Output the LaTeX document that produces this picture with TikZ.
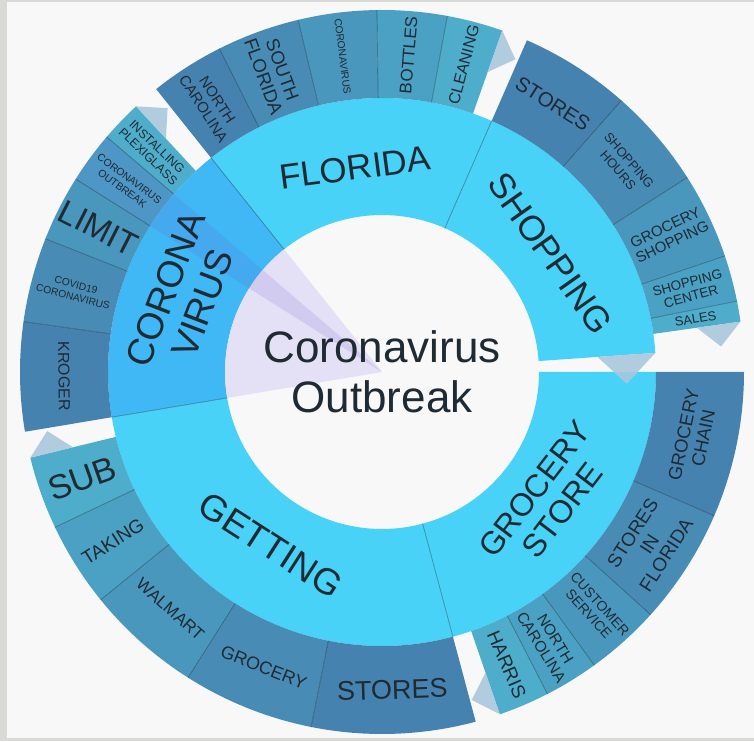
\documentclass[tikz,border=0pt]{standalone}
\usepackage{fontspec}
\setmainfont{Liberation Sans}
\usepackage{tikz}
\usepackage{xcolor}
\definecolor{bgframe}{HTML}{D9D9D6}
\definecolor{bgfill}{HTML}{F8F8F8}
\definecolor{ringone}{HTML}{48D2F8}
\definecolor{ringsel}{HTML}{3FB8F5}
\definecolor{shadeA}{HTML}{4682B0}
\definecolor{shadeB}{HTML}{488CB6}
\definecolor{shadeC}{HTML}{4A97BE}
\definecolor{shadeD}{HTML}{4AA1C4}
\definecolor{shadeE}{HTML}{4DADCA}
\definecolor{tabcolor}{HTML}{A9C8DC}
\definecolor{lavender}{HTML}{E4E0F5}
\definecolor{bandcolor}{HTML}{6A5ACD}
\definecolor{labelcolor}{HTML}{1F2A33}

% ring piece: inner radius, outer radius, start angle, end angle, colour
\newcommand{\sunsector}[5]{%
  \fill[#5] (#3:#1) -- (#3:#2) arc[start angle=#3, end angle=#4, radius=#2]
    -- (#4:#1) arc[start angle=#4, end angle=#3, radius=#1] -- cycle;}
% end marker: outer radius, base, end angle, tip angle
\newcommand{\suntab}[4]{%
  \fill[tabtip] (#3:#1) -- (#3:{#1-#2}) -- (#4:{#1-#2/2}) -- cycle;}

\begin{document}
\begin{tikzpicture}[x=1pt, y=1pt,
    lbl/.style={text=labelcolor, align=center, inner sep=0pt},
    fs/.style 2 args={font=\fontsize{#1}{#2}\selectfont},
    seam/.style={draw=black, draw opacity=0.35, line width=0.7pt},
    tabtip/.style={fill=tabcolor, fill opacity=0.9},
]

% Frame
\fill[bgframe] (-382,-369) rectangle (372,372);
\fill[bgfill] (-375,-366) rectangle (372,370);
\useasboundingbox (-382,-369) rectangle (372,372);

% Inner ring
\sunsector{157}{274}{4}{66.4}{ringone}      % shopping
\sunsector{157}{274}{66.4}{128.6}{ringone}  % florida
\sunsector{157}{274}{128.6}{189.5}{ringsel} % corona virus
\sunsector{157}{274}{189.5}{285}{ringone}   % getting
\sunsector{157}{274}{285}{360}{ringone}     % grocery store

% Outer ring: florida
\sunsector{274}{362}{116.7}{128.6}{shadeA}
\sunsector{274}{362}{103.4}{116.7}{shadeB}
\sunsector{274}{362}{90.8}{103.4}{shadeC}
\sunsector{274}{362}{79.6}{90.8}{shadeD}
\sunsector{274}{362}{70.6}{79.6}{shadeE}
% Outer ring: shopping
\sunsector{274}{362}{48.6}{66.4}{shadeA}
\sunsector{274}{362}{32.5}{48.6}{shadeB}
\sunsector{274}{362}{18.7}{32.5}{shadeC}
\sunsector{274}{362}{11.3}{18.7}{shadeD}
\sunsector{274}{362}{8}{11.3}{shadeE}
% Outer ring: grocery store
\sunsector{274}{362}{-23.4}{0}{shadeA}
\sunsector{274}{362}{-42.1}{-23.4}{shadeB}
\sunsector{274}{362}{-54.1}{-42.1}{shadeC}
\sunsector{274}{362}{-62.8}{-54.1}{shadeD}
\sunsector{274}{362}{-71}{-62.8}{shadeE}
% Outer ring: getting
\sunsector{274}{362}{-101.3}{-75}{shadeA}
\sunsector{274}{362}{-122.4}{-101.3}{shadeB}
\sunsector{274}{362}{-141}{-122.4}{shadeC}
\sunsector{274}{362}{-154.6}{-141}{shadeD}
\sunsector{274}{362}{-166.3}{-154.6}{shadeE}
% Outer ring: corona virus
\sunsector{274}{362}{172}{189.5}{shadeA}
\sunsector{274}{362}{158.4}{172}{shadeB}
\sunsector{274}{362}{147.8}{158.4}{shadeC}
\sunsector{274}{362}{139.5}{147.8}{shadeD}
\sunsector{274}{362}{132.8}{139.5}{shadeE}

% Hover wedge
\fill[lavender] (0,0) -- (128.6:157) arc[start angle=128.6, end angle=189.5, radius=157] -- cycle;
\fill[bandcolor, fill opacity=0.15] (0,0) -- (139.5:362) arc[start angle=139.5, end angle=147.8, radius=362] -- cycle;

% Seams
\foreach \a in {66.4, 128.6, 189.5, 285}
  \draw[seam] (\a:157) -- (\a:274);
\foreach \a in {116.7, 103.4, 90.8, 79.6, 48.6, 32.5, 18.7, 11.3, -23.4, -42.1,
    -54.1, -62.8, -101.3, -122.4, -141, -154.6, 172, 158.4, 147.8, 139.5}
  \draw[seam] (\a:274) -- (\a:362);

% End markers
\suntab{362}{44}{70.6}{66.9}
\suntab{362}{44}{8}{4.3}
\suntab{362}{44}{-71}{-74.7}
\suntab{362}{44}{193.7}{190}
\suntab{362}{44}{132.8}{129.1}
\suntab{274}{58}{4}{-2.75}

% Centre
\node[lbl, fs={44}{50}] (root) at (0,0) {Coronavirus\\Outbreak};

% Inner labels
\node[lbl, fs={35}{38}, rotate=7.5] (florida) at (97.5:206) {FLORIDA};
\node[lbl, fs={35.5}{38}, rotate=-54.8] (shopping) at (35.2:206) {SHOPPING};
\node[lbl, fs={32}{35}, rotate=52.5] (grocerystore) at (-37.5:210) {GROCERY\\STORE};
\node[lbl, fs={36.5}{39}, rotate=-32.75] (getting) at (-122.75:206) {GETTING};
\node[lbl, fs={37}{40}, rotate=69.05] (corona) at (159.05:212) {CORONA\\VIRUS};

% Outer labels: florida
\node[lbl, fs={15}{16.5}, rotate=-57.35] (fl-nc) at (122.65:318) {NORTH\\CAROLINA};
\node[lbl, fs={18.5}{20}, rotate=-69.95] (fl-south) at (110.05:318) {SOUTH\\FLORIDA};
\node[lbl, fs={10.3}{11}, rotate=-82.9] (fl-corona) at (97.1:318) {CORONAVIRUS};
\node[lbl, fs={17}{19}, rotate=85.2] (fl-bottles) at (85.2:318) {BOTTLES};
\node[lbl, fs={16}{18}, rotate=75.1] (fl-cleaning) at (75.1:318) {CLEANING};

% Outer labels: shopping
\node[lbl, fs={20.5}{22}, rotate=-32.5] (sh-stores) at (57.5:318) {STORES};
\node[lbl, fs={13}{14.5}, rotate=-49.45] (sh-hours) at (40.55:318) {SHOPPING\\HOURS};
\node[lbl, fs={15}{16}, rotate=25.6] (sh-grocery) at (25.6:318) {GROCERY\\SHOPPING};
\node[lbl, fs={13.5}{14.5}, rotate=15] (sh-center) at (15:318) {SHOPPING\\CENTER};
\node[lbl, fs={13}{14}, rotate=9.65] (sh-sales) at (9.65:318) {SALES};

% Outer labels: grocery store
\node[lbl, fs={18.5}{20}, rotate=78.3] (gs-chain) at (-11.7:318) {GROCERY\\CHAIN};
\node[lbl, fs={19}{20}, rotate=57.25] (gs-florida) at (-32.75:318) {STORES\\IN\\FLORIDA};
\node[lbl, fs={14}{15}, rotate=-48.1] (gs-service) at (-48.1:318) {CUSTOMER\\SERVICE};
\node[lbl, fs={15.5}{16.5}, rotate=-58.45] (gs-nc) at (-58.45:318) {NORTH\\CAROLINA};
\node[lbl, fs={19}{20}, rotate=-66.9] (gs-harris) at (-66.9:318) {HARRIS};

% Outer labels: getting
\node[lbl, fs={27}{29}, rotate=1.85] (ge-stores) at (-88.15:318) {STORES};
\node[lbl, fs={18}{20}, rotate=-21.85] (ge-grocery) at (-111.85:318) {GROCERY};
\node[lbl, fs={17}{19}, rotate=-41.7] (ge-walmart) at (-131.7:318) {WALMART};
\node[lbl, fs={19}{20}, rotate=32.2] (ge-taking) at (-147.8:318) {TAKING};
\node[lbl, fs={34}{36}, rotate=19.55] (ge-sub) at (-160.45:318) {SUB};

% Outer labels: corona virus
\node[lbl, fs={16}{18}, rotate=-89.25] (co-kroger) at (180.75:318) {KROGER};
\node[lbl, fs={10.3}{12}, rotate=-14.8] (co-covid) at (165.2:318) {COVID19\\CORONAVIRUS};
\node[lbl, fs={33}{35}, rotate=-26.9] (co-limit) at (153.1:318) {LIMIT};
\node[lbl, fs={10.4}{12}, rotate=-36.35] (co-outbreak) at (143.65:318) {CORONAVIRUS\\OUTBREAK};
\node[lbl, fs={12.3}{13}, rotate=-43.85] (co-plexi) at (136.15:318) {INSTALLING\\PLEXIGLASS};

\end{tikzpicture}
\end{document}
